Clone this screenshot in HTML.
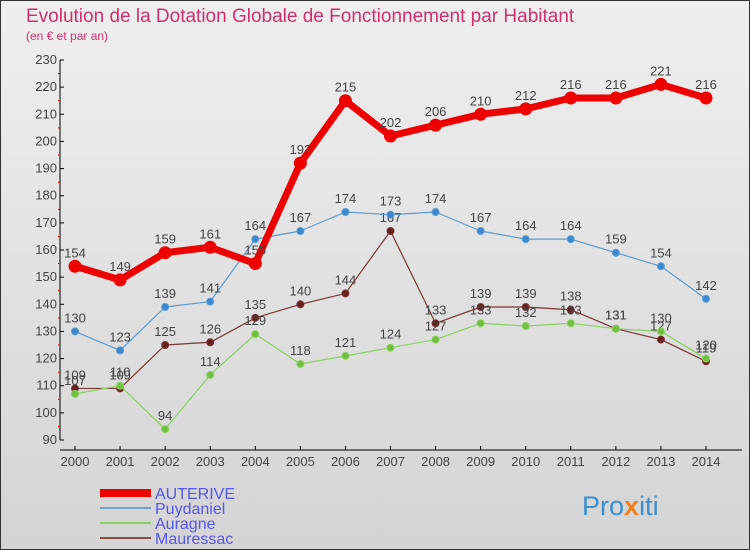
<!DOCTYPE html>
<html><head><meta charset="utf-8"><style>
body{margin:0;background:#fff}
svg{display:block;font-family:"Liberation Sans","DejaVu Sans",sans-serif}
</style></head><body>
<svg width="750" height="550" viewBox="0 0 750 550" xmlns="http://www.w3.org/2000/svg">
<defs><linearGradient id="bg" x1="0" y1="0" x2="0" y2="1"><stop offset="0" stop-color="#efefef"/><stop offset="1" stop-color="#d4d4d4"/></linearGradient></defs>
<rect x="0.5" y="0.5" width="749" height="549" fill="url(#bg)" stroke="#333"/>
<text x="26" y="22" font-size="19" fill="#d0306a">Evolution de la Dotation Globale de Fonctionnement par Habitant</text>
<text x="26" y="40" font-size="12" fill="#d0306a">(en € et par an)</text>
<g id="axes"></g><g id="series"></g>
<g>
<rect x="100" y="489" width="51" height="8" fill="#e00"/>
<text x="155" y="499" font-size="16" fill="#5555ee">AUTERIVE</text>
<rect x="100" y="507" width="51" height="2" fill="#6fa2cc"/>
<text x="155" y="514" font-size="16" fill="#5555ee">Puydaniel</text>
<rect x="100" y="522" width="51" height="2" fill="#88d060"/>
<text x="155" y="529" font-size="16" fill="#5555ee">Auragne</text>
<rect x="100" y="537" width="51" height="2" fill="#8a4a4a"/>
<text x="155" y="544" font-size="16" fill="#5555ee">Mauressac</text>
</g>
<g font-size="27">
<text x="582" y="515" fill="#3a8fd0">Pro<tspan fill="#f08020" font-weight="bold">x</tspan>iti</text>
</g>
</svg>
<script>
const years=["2000","2001","2002","2003","2004","2005","2006","2007","2008","2009","2010","2011","2012","2013","2014"];
const auterive=[154,149,159,161,155,192,215,202,206,210,212,216,216,221,216];
const puydaniel=[130,123,139,141,164,167,174,173,174,167,164,164,159,154,142];
const auragne=[107,110,94,114,129,118,121,124,127,133,132,133,131,130,120];
const mauressac=[109,109,125,126,135,140,144,167,133,139,139,138,131,127,119];
const yTicks=[90,100,110,120,130,140,150,160,170,180,190,200,210,220,230];
const NS="http://www.w3.org/2000/svg";
const x=i=>75+i*(706-75)/(years.length-1);
const y=v=>440-(v-90)*380/140;
function mk(t,a,p){const e=document.createElementNS(NS,t);for(const k in a)e.setAttribute(k,a[k]);p.appendChild(e);return e;}
const ax=document.getElementById('axes');
const yl=mk('line',{x1:60,y1:y(230),x2:60,y2:y(90),stroke:'#000'},ax);


yTicks.forEach(v=>{
 mk('line',{x1:60,y1:y(v),x2:64,y2:y(v),stroke:'#000'},ax);
 if(v<230)mk('line',{x1:58,y1:y(v+5),x2:60,y2:y(v+5),stroke:'#e00'},ax);
 const t=mk('text',{x:57,y:y(v)+4,'font-size':13,'text-anchor':'end',fill:'#444'},ax);
 
 
 t.textContent=v;
});
const xl=mk('line',{x1:60,y1:450,x2:742,y2:450,stroke:'#000'},ax);


years.forEach((yr,i)=>{
 mk('line',{x1:x(i),y1:446,x2:x(i),y2:450,stroke:'#000'},ax);
 const t=mk('text',{x:x(i),y:466,'font-size':13,'text-anchor':'middle',fill:'#444'},ax);
 
 
 t.textContent=yr;
});
const sg=document.getElementById('series');
function series(name,data,color,w,r,dot){
 const g=mk('g',{},sg);
 
 
 mk('polyline',{points:data.map((v,i)=>x(i)+','+y(v)).join(' '),fill:'none',stroke:color,'stroke-width':w,'stroke-linejoin':'round'},g);
 data.forEach((v,i)=>{
  const c=mk('circle',{cx:x(i),cy:y(v),r:r,fill:dot,stroke:color,'stroke-width':1},g);
  
  
  const t=mk('text',{x:x(i),y:y(v)-9,'font-size':13,'text-anchor':'middle',fill:'#444'},g);
  
  
  t.textContent=v;
 });
}
series('mauressac',mauressac,'#7a3535',1.2,3.5,'#6a2020');
series('auragne',auragne,'#88d060',1.2,3.5,'#70c040');
series('puydaniel',puydaniel,'#5a9ad0',1.2,3.5,'#3a88d0');
series('auterive',auterive,'#e00',7,6,'#e00');
</script>
</body></html>
